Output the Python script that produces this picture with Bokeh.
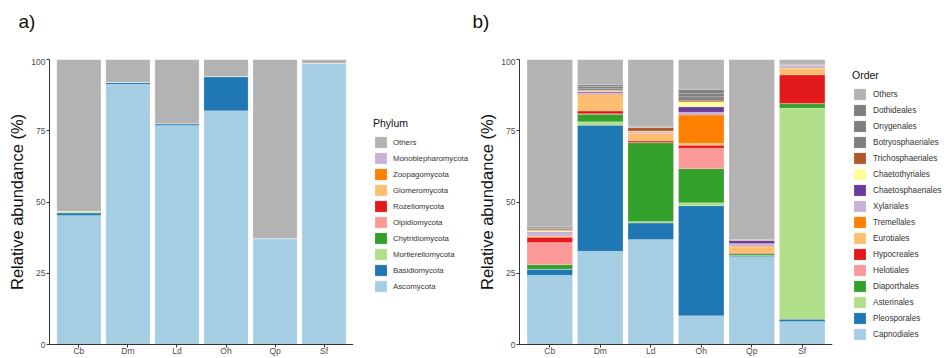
from bokeh.plotting import figure
from bokeh.models import Range1d, FixedTicker, Legend, LegendItem, ColumnDataSource, Label
from bokeh.layouts import row, column
from bokeh.embed import file_html
from bokeh.resources import INLINE

sites = ["Cb", "Dm", "Ld", "Oh", "Qp", "Sf"]
positions = [1, 2, 3, 4, 5, 6]

# ---- Phylum (stack order bottom -> top) ----
phyla = ["Ascomycota", "Basidiomycota", "Mortierellomycota", "Chytridiomycota",
         "Olpidiomycota", "Rozellomycota", "Glomeromycota", "Zoopagomycota",
         "Monoblepharomycota", "Others"]
phylum_colors = ["#A6CEE3", "#1F78B4", "#B2DF8A", "#33A02C", "#FB9A99",
                 "#E31A1C", "#FDBF6F", "#FF7F00", "#CAB2D6", "#B3B3B3"]
ascomycota = [45.3, 91.3, 76.8, 82.0, 37.0, 98.6]
basidiomycota = [0.8, 0.7, 0.7, 12.0, 0.3, 0.1]
mortierellomycota = [0.4, 0.0, 0.0, 0.0, 0.0, 0.0]
chytridiomycota = [0.1, 0.0, 0.0, 0.0, 0.0, 0.0]
olpidiomycota = [0.0, 0.0, 0.0, 0.0, 0.0, 0.0]
rozellomycota = [0.0, 0.0, 0.0, 0.0, 0.0, 0.0]
glomeromycota = [0.2, 0.0, 0.0, 0.0, 0.0, 0.0]
zoopagomycota = [0.0, 0.0, 0.0, 0.0, 0.0, 0.0]
monoblepharomycota = [0.0, 0.0, 0.0, 0.0, 0.0, 0.0]
phylum_others = [53.2, 8.0, 22.5, 6.0, 62.7, 1.3]
phylum_values = [ascomycota, basidiomycota, mortierellomycota, chytridiomycota,
                 olpidiomycota, rozellomycota, glomeromycota, zoopagomycota,
                 monoblepharomycota, phylum_others]

# ---- Order (stack order bottom -> top) ----
orders = ["Capnodiales", "Pleosporales", "Asterinales", "Diaporthales", "Helotiales",
          "Hypocreales", "Eurotiales", "Tremellales", "Xylariales", "Chaetosphaeriales",
          "Chaetothyriales", "Trichosphaeriales", "Botryosphaeriales", "Onygenales",
          "Dothideales", "Others"]
order_colors = ["#A6CEE3", "#1F78B4", "#B2DF8A", "#33A02C", "#FB9A99", "#E31A1C",
                "#FDBF6F", "#FF7F00", "#CAB2D6", "#6A3D9A", "#FFFF99", "#B15928",
                "#7F7F7F", "#7F7F7F", "#7F7F7F", "#B3B3B3"]
capnodiales = [24.3, 32.7, 36.8, 10.1, 30.6, 8.1]
pleosporales = [2.1, 44.2, 5.8, 38.6, 0.4, 0.8]
asterinales = [0.1, 1.3, 0.6, 1.0, 0.2, 74.1]
diaporthales = [1.5, 2.6, 27.6, 12.0, 0.6, 1.5]
helotiales = [7.8, 0.2, 0.1, 7.2, 0.1, 0.1]
hypocreales = [1.8, 0.9, 0.5, 1.0, 0.2, 10.0]
eurotiales = [0.4, 5.5, 2.7, 0.7, 2.1, 2.3]
tremellales = [0.1, 0.4, 0.1, 9.9, 0.3, 0.1]
xylariales = [1.3, 0.5, 0.5, 1.0, 0.9, 0.8]
chaetosphaeriales = [0.2, 0.5, 0.1, 1.9, 1.1, 0.1]
chaetothyriales = [0.4, 0.3, 0.1, 1.8, 0.1, 0.1]
trichosphaeriales = [0.4, 0.2, 1.2, 0.5, 0.1, 0.1]
botryosphaeriales = [0.3, 0.6, 0.1, 1.2, 0.1, 0.1]
onygenales = [0.3, 0.6, 0.1, 1.2, 0.05, 0.1]
dothideales = [0.4, 0.6, 0.1, 1.3, 0.05, 0.1]
order_others = [58.6, 8.9, 23.6, 10.6, 63.1, 1.6]
order_values = [capnodiales, pleosporales, asterinales, diaporthales, helotiales,
                hypocreales, eurotiales, tremellales, xylariales, chaetosphaeriales,
                chaetothyriales, trichosphaeriales, botryosphaeriales, onygenales,
                dothideales, order_others]

FONT = "Liberation Sans"
TOP_H = 58
H = 300
BAR_LINE = dict(line_color="white", line_width=0.4, line_alpha=0.4)


def blank(width, height):
    f = figure(width=width, height=height, x_range=Range1d(0, width),
               y_range=Range1d(0, height), output_backend="svg", toolbar_location=None,
               x_axis_location=None, y_axis_location=None, min_border=0)
    f.xgrid.visible = False
    f.ygrid.visible = False
    f.outline_line_color = None
    return f


def make_tag(width, tag, x):
    f = blank(width, TOP_H)
    f.add_layout(Label(x=x, y=TOP_H - 21, text=tag, text_font=FONT, text_font_size="19px",
                       text_color="#111111", text_baseline="middle", text_align="left"))
    return f


def make_panel(width, border_left, values, colors):
    p = figure(width=width, height=H, x_range=Range1d(0.4, 6.6), y_range=Range1d(0, 100),
               output_backend="svg", toolbar_location=None,
               min_border_left=border_left, min_border_right=0,
               min_border_top=1, min_border_bottom=0)
    data = {"x": positions}
    keys = []
    for i, v in enumerate(values):
        k = "s%d" % i
        data[k] = v
        keys.append(k)
    src = ColumnDataSource(data)
    p.vbar_stack(keys, x="x", width=0.9, source=src, fill_color=colors, **BAR_LINE)

    p.xgrid.visible = False
    p.ygrid.visible = False
    p.outline_line_color = None
    p.background_fill_color = "white"

    p.xaxis.ticker = FixedTicker(ticks=positions)
    p.xaxis.major_label_overrides = {x: s for x, s in zip(positions, sites)}
    p.yaxis.ticker = FixedTicker(ticks=[0, 25, 50, 75, 100])
    for ax in (p.xaxis, p.yaxis):
        ax.axis_line_color = "#333333"
        ax.major_tick_line_color = "#333333"
        ax.minor_tick_line_color = None
        ax.major_tick_in = 0
        ax.major_tick_out = 3
        ax.major_label_text_font = FONT
        ax.major_label_text_font_size = "8.5px"
        ax.major_label_text_color = "#4D4D4D"
        ax.major_label_standoff = 1
    p.xaxis.major_label_standoff = -2
    p.yaxis.axis_label = "Relative abundance (%)"
    p.yaxis.axis_label_text_font = FONT
    p.yaxis.axis_label_text_font_size = "16.5px"
    p.yaxis.axis_label_text_font_style = "normal"
    p.yaxis.axis_label_text_color = "#111111"
    p.yaxis.axis_label_standoff = 2
    return p


def make_legend(width, names, colors, title, vy, label_size, standoff):
    lf = blank(width, H)
    items = []
    for n, c in zip(names, colors):
        # legend key proxy, kept outside the visible range
        r = lf.vbar(x=[-10], top=[-10], width=0.9, fill_color=c, **BAR_LINE)
        items.append(LegendItem(label=n, renderers=[r]))
    leg = Legend(items=items[::-1], location=(20, vy), title=title,
                 padding=0, margin=0, spacing=2, glyph_width=15, glyph_height=14,
                 label_height=14, label_standoff=standoff, label_text_font=FONT,
                 label_text_font_size=label_size, label_text_color="#333333",
                 title_text_font=FONT, title_text_font_size="10.5px",
                 title_text_font_style="normal", title_text_color="#111111",
                 title_standoff=6, border_line_color=None, background_fill_alpha=0)
    lf.add_layout(leg)
    return lf


ta = make_tag(470, "a)", 18)
tb = make_tag(475, "b)", 2)
pa = make_panel(353, 49, phylum_values, phylum_colors)
la = make_legend(117, phyla, phylum_colors, "Phylum", 51, "7.8px", 5)
pb = make_panel(362, 49, order_values, order_colors)
lb = make_legend(113, orders, order_colors, "Order", 3, "8.2px", 6)

layout = column(row(ta, tb), row(pa, la, pb, lb))
open("out.html", "w").write(file_html(layout, INLINE))
